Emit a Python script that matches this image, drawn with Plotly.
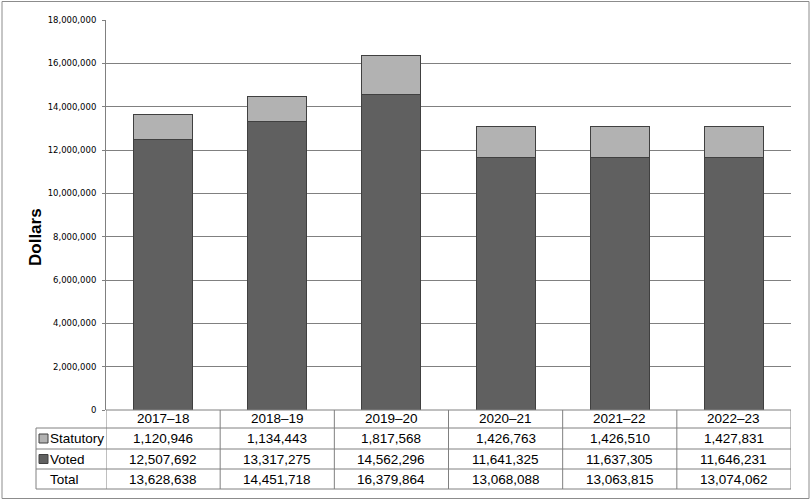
import plotly.graph_objects as go

categories = ["2017–18", "2018–19", "2019–20", "2020–21", "2021–22", "2022–23"]
statutory = [1120946, 1134443, 1817568, 1426763, 1426510, 1427831]
voted = [12507692, 13317275, 14562296, 11641325, 11637305, 11646231]
totals = [s + v for s, v in zip(statutory, voted)]
y_ticks = list(range(0, 18000001, 2000000))

STAT_COLOR = "#b2b2b2"
VOTED_COLOR = "#606060"
EDGE = "#404040"
GRID = "#808080"

W, H = 812, 501
L, R, T, B = 106, 791, 20, 410


def px(X):
    return (X - L) / (R - L)


def py(Y):
    return (B - Y) / (B - T)


fig = go.Figure()
fig.add_trace(go.Bar(x=categories, y=voted, name="Voted", marker=dict(color=VOTED_COLOR, line=dict(color=EDGE, width=1))))
fig.add_trace(go.Bar(x=categories, y=statutory, name="Statutory", marker=dict(color=STAT_COLOR, line=dict(color=EDGE, width=1))))

shapes = []
annotations = []
line = dict(color=GRID, width=1)

# outer border
shapes.append(dict(type="rect", xref="paper", yref="paper", x0=px(2), x1=px(809), y0=py(498.5), y1=py(1.5),
                   line=dict(color="#8c8c8c", width=1), fillcolor="rgba(0,0,0,0)", layer="below"))

# table rows
row_lines = [428, 449, 469, 489]
for Y in row_lines:
    shapes.append(dict(type="line", xref="paper", yref="paper", x0=px(36), x1=1, y0=py(Y), y1=py(Y), line=line))
shapes.append(dict(type="line", xref="paper", yref="paper", x0=0, x1=1, y0=py(410), y1=py(410), line=line))
# verticals
shapes.append(dict(type="line", xref="paper", yref="paper", x0=px(36), x1=px(36), y0=py(428), y1=py(489), line=line))
for i in range(len(categories) + 1):
    shapes.append(dict(type="line", xref="x", yref="paper", x0=i - 0.5, x1=i - 0.5, y0=py(410), y1=py(489), line=line))

# legend keys in table
for Yc, col in [(438.5, STAT_COLOR), (459, VOTED_COLOR)]:
    shapes.append(dict(type="rect", xref="paper", yref="paper", x0=px(39), x1=px(48), y0=py(Yc + 4.5), y1=py(Yc - 4.5),
                       line=dict(color=EDGE, width=1), fillcolor=col))

font = dict(family="Liberation Sans, Arial", size=13.5, color="#000000")
row_labels = [("Statutory", 438.5, statutory), ("Voted", 459, voted), ("Total", 479, totals)]
for lab, Yc, vals in row_labels:
    annotations.append(dict(xref="paper", yref="paper", x=px(47.5), y=py(Yc), text=lab, showarrow=False,
                            xanchor="left", yanchor="middle", font=font))
    for i, v in enumerate(vals):
        annotations.append(dict(xref="x", yref="paper", x=i, y=py(Yc), text=f"{v:,}", showarrow=False,
                                xanchor="center", yanchor="middle", font=font))
for i, c in enumerate(categories):
    annotations.append(dict(xref="x", yref="paper", x=i, y=py(419), text=c, showarrow=False,
                            xanchor="center", yanchor="middle", font=font))

annotations.append(dict(xref="paper", yref="paper", x=px(35), y=py(237), text="<b>Dollars</b>", textangle=-90,
                        showarrow=False, xanchor="center", yanchor="middle",
                        font=dict(family="Liberation Sans, Arial", size=17, color="#000000")))

fig.update_layout(
    width=W, height=H,
    margin=dict(l=L, r=W - R, t=T, b=H - B, pad=0),
    barmode="stack", bargap=0.483,
    plot_bgcolor="white", paper_bgcolor="white",
    showlegend=False,
    shapes=shapes, annotations=annotations,
    xaxis=dict(range=[-0.5, len(categories) - 0.5], showticklabels=False, showgrid=False, zeroline=False,
               showline=False, ticks=""),
    yaxis=dict(range=[0, 18000000], tickvals=y_ticks, ticktext=[f"{v:,}" for v in y_ticks],
               showgrid=True, gridcolor=GRID, gridwidth=1, zeroline=False,
               showline=True, linecolor=GRID, linewidth=1, ticks="outside", ticklen=3, tickcolor=GRID,
               tickfont=dict(family="DejaVu Sans", size=8.5, color="#000000"), ticklabelstandoff=4),
)

fig.write_html("out.html")
